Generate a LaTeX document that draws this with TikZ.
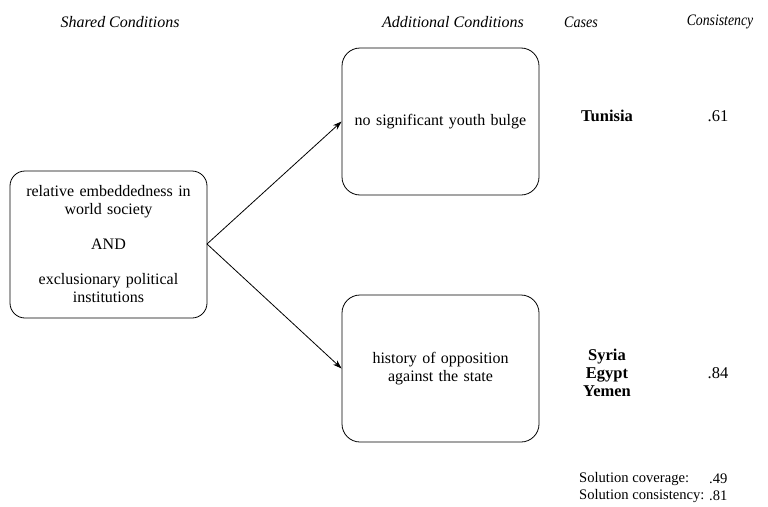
\documentclass[tikz,border=0pt]{standalone}
\usepackage{fontspec}
\setmainfont{Liberation Serif}
\usetikzlibrary{arrows.meta}
\begin{document}
\begin{tikzpicture}[x=1pt,y=-1pt,
  every node/.style={font=\fontsize{16}{18}\selectfont, inner sep=0pt},
  condbox/.style={draw, line width=0.8pt, rounded corners=18pt, minimum width=197pt, minimum height=147pt, align=center, text width=190pt},
  hdr/.style={font=\fontsize{16}{18}\selectfont\itshape},
  conn/.style={line width=0.8pt, -{Stealth[length=9pt,width=6pt]}},
  casetxt/.style={font=\fontsize{16.5}{18}\selectfont\bfseries, align=center},
  valtxt/.style={font=\fontsize{16.5}{18}\selectfont},
  soltxt/.style={font=\fontsize{14.6}{17}\selectfont, anchor=west}]
\useasboundingbox (0,0) rectangle (768,506);
\node[hdr] (h1) at (120,22) {Shared Conditions};
\node[hdr] (h2) at (453,22) {Additional Conditions};
\node[hdr] (h3) at (581,22) {\scalebox{0.88}[1]{Cases}};
\node[hdr] (h4) at (720,22) {\scalebox{0.86}[1]{Consistency}};
\node[condbox, rounded corners=15pt] (shared) at (108.5,244.5) {relative embeddedness in\\world society\\[17pt]AND\\[17pt]exclusionary political\\institutions};
\node[condbox] (youth) at (440.5,121.5) {no significant youth bulge};
\node[condbox] (hist) at (440.5,368.5) {history of opposition\\against the state};
\coordinate (apex) at (207,244);
\draw[conn] (apex) -- (youth.west);
\draw[conn] (apex) -- (hist.west);
\node[casetxt] (tun) at (607,116) {Tunisia};
\node[valtxt] (c1) at (718,116) {.61};
\node[casetxt] (syr) at (607,373) {Syria\\Egypt\\Yemen};
\node[valtxt] (c2) at (718,373) {.84};
\node[soltxt] (sc1) at (579,479) {Solution coverage:};
\node[soltxt] (sv1) at (709,479) {.49};
\node[soltxt] (sc2) at (579,496) {Solution consistency:};
\node[soltxt] (sv2) at (709,496) {.81};
\end{tikzpicture}
\end{document}
